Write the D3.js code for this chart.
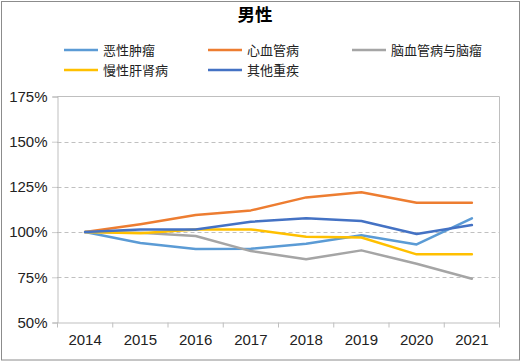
<!DOCTYPE html>
<html>
  <head>
    <meta charset="utf-8">
    <title>男性</title>
    <script src="https://d3js.org/d3.v7.min.js"></script>
    <style>
      body { margin: 0; background: white; }
      svg { display: block; font-family: "Noto Sans CJK SC", "Liberation Sans", sans-serif; }
      .grid line { stroke: #c0c0c0; stroke-dasharray: 4 3; }
      .tick text { fill: #222; }
    </style>
  </head>
  <body>
    <svg id="chart" width="521" height="362"></svg>
    <script>
      // data
      years = ["2014", "2015", "2016", "2017", "2018", "2019", "2020", "2021"];
      seriesNames = ["恶性肿瘤", "心血管病", "脑血管病与脑瘤", "慢性肝肾病", "其他重疾"];
      seriesColors = ["#5b9bd5", "#ed7d31", "#a5a5a5", "#ffc000", "#4472c4"];
      malignant = [1.00, 0.94, 0.906, 0.908, 0.935, 0.983, 0.932, 1.076];
      cardio = [1.00, 1.044, 1.094, 1.12, 1.192, 1.22, 1.162, 1.162];
      cerebro = [1.00, 0.996, 0.978, 0.895, 0.85, 0.899, 0.825, 0.742];
      liverKidney = [1.00, 0.993, 1.015, 1.015, 0.974, 0.97, 0.877, 0.877];
      other = [1.00, 1.015, 1.015, 1.057, 1.076, 1.061, 0.989, 1.039];
      yTicks = [0.5, 0.75, 1.0, 1.25, 1.5, 1.75];
      allSeries = [malignant, cardio, cerebro, liverKidney, other];

      svg = d3.select("#chart");
      margin = { left: 57.5, right: 499.5, top: 96.5, bottom: 322.5 };

      // outer border
      svg.append("rect")
        .attr("x", 1.5).attr("y", 1.5)
        .attr("width", 518).attr("height", 358.5)
        .attr("fill", "white")
        .attr("stroke", "#8c8c8c");

      // title
      svg.append("text")
        .attr("x", 255).attr("y", 21)
        .attr("text-anchor", "middle")
        .style("font-size", "17.5px")
        .style("font-weight", "bold")
        .text("男性");

      // legend
      legendPos = [[64, 50], [208, 50], [352, 50], [64, 70], [208, 70]];
      legend = svg.append("g");
      seriesNames.forEach(function(name, i) {
        let g = legend.append("g").attr("transform", "translate(" + legendPos[i][0] + "," + legendPos[i][1] + ")");
        g.append("line")
          .attr("x1", 0).attr("x2", 34)
          .attr("stroke", seriesColors[i])
          .attr("stroke-width", 2.5);
        g.append("text")
          .attr("x", 39).attr("y", 4.5)
          .style("font-size", "13px")
          .attr("fill", "#222")
          .text(name);
      });

      // scales
      x = d3.scaleBand().domain(years).range([margin.left, margin.right]);
      y = d3.scaleLinear().domain([0.5, 1.75]).range([margin.bottom, margin.top]);

      // gridlines
      svg.append("g")
        .attr("class", "grid")
        .selectAll("line")
        .data(yTicks.filter(function(d) { return d > 0.5 && d < 1.75; }))
        .enter().append("line")
          .attr("x1", margin.left).attr("x2", margin.right)
          .attr("y1", function(d) { return Math.round(y(d)) + 0.5; })
          .attr("y2", function(d) { return Math.round(y(d)) + 0.5; });

      // plot frame (top and right)
      svg.append("path")
        .attr("d", "M" + margin.left + "," + margin.top + "H" + margin.right + "V" + margin.bottom)
        .attr("fill", "none")
        .attr("stroke", "#bfbfbf");

      // y axis
      yAxis = svg.append("g")
        .attr("transform", "translate(" + margin.left + ",0)")
        .call(d3.axisLeft(y).tickValues(yTicks).tickFormat(d3.format(".0%")).tickSize(5).tickPadding(5));
      yAxis.select(".domain").attr("stroke", "#bfbfbf");
      yAxis.selectAll(".tick line").attr("stroke", "#999").attr("stroke-dasharray", "1 1");
      yAxis.selectAll(".tick text").style("font-size", "15px").style("font-family", "'Liberation Sans', sans-serif");

      // x axis, ticks between categories
      xAxis = svg.append("g")
        .attr("transform", "translate(0," + margin.bottom + ")")
        .call(d3.axisBottom(x).tickSize(0).tickPadding(12));
      xAxis.select(".domain").attr("stroke", "#bfbfbf");
      xAxis.selectAll(".tick text").style("font-size", "15px").style("font-family", "'Liberation Sans', sans-serif");
      xAxis.selectAll(".sep")
        .data(years.concat(["end"]))
        .enter().append("line")
          .attr("x1", function(d, i) { return margin.left + i * x.step(); })
          .attr("x2", function(d, i) { return margin.left + i * x.step(); })
          .attr("y1", 0).attr("y2", 5)
          .attr("stroke", "#bfbfbf");

      // lines
      line = d3.line()
        .x(function(d, i) { return x(years[i]) + x.bandwidth() / 2; })
        .y(function(d) { return y(d); });
      svg.append("g")
        .selectAll("path")
        .data(allSeries)
        .enter().append("path")
          .attr("d", line)
          .attr("fill", "none")
          .attr("stroke", function(d, i) { return seriesColors[i]; })
          .attr("stroke-width", 2.5)
          .attr("stroke-linejoin", "round")
          .attr("stroke-linecap", "round");
    </script>
  </body>
</html>
